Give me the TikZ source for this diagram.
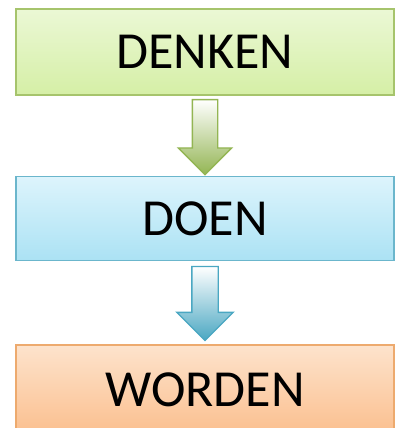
\documentclass[tikz,border=0pt]{standalone}
\usepackage{fontspec}
\setmainfont{Carlito}
\usetikzlibrary{positioning}
\usetikzlibrary{shapes.arrows}

\definecolor{denkenline}{HTML}{A6C46C}
\definecolor{denkentop}{HTML}{EBF8D5}
\definecolor{denkenbottom}{HTML}{D5EFA6}
\definecolor{doenline}{HTML}{6BB6CC}
\definecolor{doentop}{HTML}{DDF4FC}
\definecolor{doenbottom}{HTML}{ABE2F4}
\definecolor{wordenline}{HTML}{EDAA6E}
\definecolor{wordentop}{HTML}{FDE3CC}
\definecolor{wordenbottom}{HTML}{FBBF8E}
\definecolor{greenarrow}{HTML}{93B553}
\definecolor{bluearrow}{HTML}{4AA7C2}

\begin{document}
\begin{tikzpicture}[
x=1pt, y=-1pt,
stepbox/.style={rectangle, line width=1.6pt, minimum width=378pt, inner sep=0pt, font=\fontsize{52}{62}\selectfont},
fatarrow/.style={single arrow, shape border rotate=270, line width=1.4pt, single arrow head indent=0pt, single arrow tip angle=90},
]
\useasboundingbox (0,0) rectangle (401,428);
%Nodes
\node[stepbox, draw=denkenline, top color=denkentop, bottom color=denkenbottom, minimum height=86pt] at (205,52) (denken) {DENKEN};
\node[stepbox, draw=doenline, top color=doentop, bottom color=doenbottom, minimum height=84pt] (doen) [below=80pt of denken] {DOEN};
\node[stepbox, draw=wordenline, top color=wordentop, bottom color=wordenbottom, minimum height=90pt] (worden) [below=83pt of doen] {WORDEN};

%Lines
\path (denken.south) -- (doen.north) node[midway, yshift=5pt, fatarrow, draw=greenarrow, top color=white, bottom color=greenarrow, inner sep=12pt, minimum height=75pt, single arrow head extend=14pt] (pijl1) {};
\path (doen.south) -- (worden.north) node[midway, yshift=6pt, fatarrow, draw=bluearrow, top color=white, bottom color=bluearrow, inner sep=12.5pt, minimum height=74pt, single arrow head extend=15pt] (pijl2) {};

\end{tikzpicture}
\end{document}
